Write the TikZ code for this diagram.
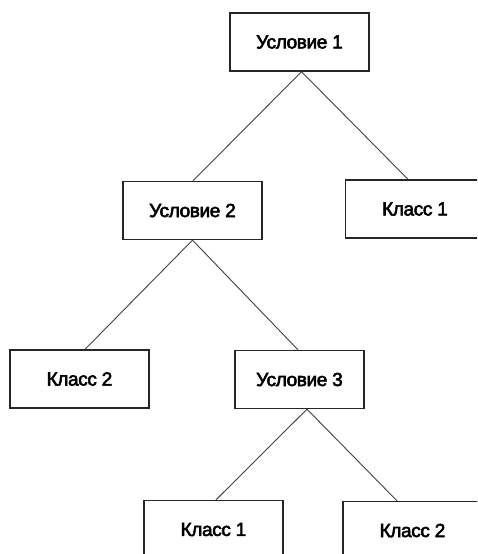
\documentclass[tikz,border=0pt]{standalone}
\usepackage{fontspec}
\setmainfont{Liberation Sans}
\newfontfamily\boxfont{Liberation Sans}[LetterSpace=-2]
\newcommand\heavytext[1]{\special{pdf:literal direct 2 Tr 0.55 w}#1\special{pdf:literal direct 0 Tr}}
\usetikzlibrary{calc}
\begin{document}
\begin{tikzpicture}[x=1pt,y=-1pt,
  box/.style={draw=black!85,line width=1.3pt,fill=white,minimum width=139pt,minimum height=58pt,inner sep=0pt,font=\boxfont\fontsize{19}{22}\selectfont},
  link/.style={draw=black!75,line width=0.9pt}]
\useasboundingbox (0,0) rectangle (477,554);
\clip (0,0) rectangle (477,554);
\node[box] (u1) at (299.5,42) {\heavytext{Условие 1}};
\node[box] (u2) at (192.5,210.5) {\heavytext{Условие 2}};
\node[box] (k1) at (415,209) {\heavytext{Класс 1}};
\node[box] (k2) at (79.5,379) {\heavytext{Класс 2}};
\node[box,minimum width=129pt] (u3) at (299.5,379.5) {\heavytext{Условие 3}};
\node[box] (k1b) at (213.5,529.5) {\heavytext{Класс 1}};
\node[box] (k2b) at (412.5,530.5) {\heavytext{Класс 2}};
\draw[link] ($(u1.south)+(2,0)$) -- ($(u2.north)+(0.5,0)$);
\draw[link] ($(u1.south)+(2,0)$) -- ($(k1.north)+(-7,0)$);
\draw[link] (u2.south) -- ($(k2.north)+(5.5,0)$);
\draw[link] (u2.south) -- ($(u3.north)+(-1.5,0)$);
\draw[link] ($(u3.south)+(7.5,0)$) -- ($(k1b.north)+(2.5,0)$);
\draw[link] ($(u3.south)+(7.5,0)$) -- ($(k2b.north)+(-15.5,0)$);
\end{tikzpicture}
\end{document}
